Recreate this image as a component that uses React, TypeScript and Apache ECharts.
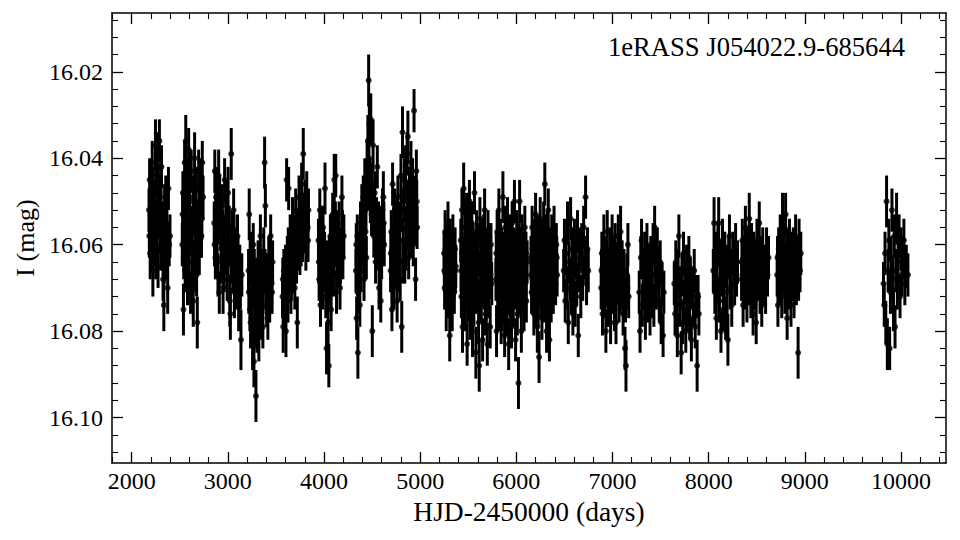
import React, { useEffect, useRef } from "react";
import * as echarts from "echarts";

// Each point: [HJD-2450000, I mag, error]
const S01: number[][] = [[2180,16.052,0.005],[2186,16.045,0.005],[2192,16.062,0.006],[2199,16.048,0.005],[2206,16.057,0.005],[2213,16.041,0.005],[2220,16.066,0.006],[2227,16.054,0.005],[2234,16.050,0.005],[2241,16.060,0.005],[2247,16.037,0.006],[2253,16.044,0.005],[2260,16.058,0.005],[2267,16.039,0.005],[2274,16.065,0.005],[2281,16.053,0.005],[2288,16.036,0.005],[2295,16.049,0.005],[2302,16.061,0.005],[2310,16.042,0.005],[2318,16.056,0.006],[2326,16.068,0.005],[2334,16.074,0.006],[2342,16.051,0.005],[2350,16.059,0.005],[2358,16.063,0.005],[2366,16.055,0.005],[2374,16.070,0.006],[2382,16.047,0.005],[2390,16.060,0.005],[2398,16.058,0.005],
  [2183,16.058,0.005],[2196,16.053,0.005],[2210,16.061,0.005],[2223,16.047,0.005],[2237,16.055,0.005],[2250,16.063,0.005],[2264,16.050,0.005],[2278,16.046,0.005],[2291,16.057,0.005],[2306,16.052,0.005],[2322,16.060,0.005],[2338,16.064,0.005],[2354,16.049,0.005],[2370,16.062,0.005]];
const S02: number[][] = [[2526,16.060,0.005],[2532,16.048,0.005],[2538,16.075,0.006],[2544,16.055,0.005],[2550,16.041,0.005],[2556,16.066,0.005],[2562,16.036,0.006],[2568,16.052,0.005],[2574,16.045,0.005],[2580,16.069,0.005],[2586,16.058,0.005],[2592,16.038,0.005],[2598,16.062,0.005],[2605,16.050,0.006],[2612,16.071,0.005],[2619,16.043,0.005],[2626,16.057,0.005],[2633,16.064,0.005],[2640,16.073,0.006],[2647,16.053,0.005],[2654,16.040,0.006],[2661,16.060,0.005],[2668,16.047,0.005],[2675,16.067,0.005],[2682,16.078,0.006],[2689,16.056,0.005],[2696,16.043,0.005],[2703,16.062,0.005],[2710,16.051,0.005],[2718,16.045,0.005],[2726,16.058,0.005],[2734,16.041,0.005],[2742,16.049,0.005],
  [2529,16.053,0.005],[2541,16.063,0.005],[2553,16.049,0.005],[2565,16.059,0.005],[2577,16.051,0.005],[2589,16.064,0.005],[2601,16.046,0.005],[2615,16.056,0.005],[2629,16.061,0.005],[2643,16.049,0.005],[2657,16.066,0.005],[2672,16.055,0.005],[2686,16.062,0.005],[2700,16.050,0.005],[2714,16.058,0.005],[2730,16.054,0.005]];
const S03: number[][] = [[2858,16.055,0.005],[2864,16.043,0.005],[2870,16.063,0.005],[2877,16.049,0.005],[2884,16.058,0.006],[2890,16.047,0.005],[2897,16.067,0.005],[2904,16.044,0.006],[2911,16.071,0.005],[2918,16.052,0.005],[2926,16.056,0.005],[2934,16.064,0.005],[2942,16.051,0.005],[2950,16.070,0.006],[2958,16.058,0.005],[2966,16.045,0.005],[2975,16.062,0.005],[2984,16.055,0.005],[2993,16.068,0.005],[3002,16.048,0.006],[3011,16.060,0.005],[3020,16.073,0.006],[3026,16.076,0.006],[3035,16.039,0.006],[3044,16.057,0.005],[3052,16.066,0.005],[3060,16.052,0.005],[3068,16.071,0.006],[3077,16.061,0.005],[3088,16.069,0.006],[3100,16.058,0.005],[3112,16.074,0.006],[3124,16.065,0.005],[3136,16.082,0.007],[3145,16.067,0.005],
  [2861,16.060,0.005],[2874,16.052,0.005],[2887,16.063,0.005],[2900,16.055,0.005],[2914,16.049,0.005],[2930,16.061,0.005],[2946,16.057,0.005],[2962,16.066,0.005],[2979,16.050,0.005],[2997,16.062,0.005],[3015,16.056,0.005],[3031,16.064,0.005],[3048,16.060,0.005],[3064,16.058,0.005],[3082,16.066,0.005],[3106,16.063,0.005],[3130,16.070,0.005]];
const S04: number[][] = [[3215,16.066,0.005],[3222,16.053,0.006],[3229,16.075,0.005],[3236,16.078,0.006],[3243,16.062,0.005],[3250,16.070,0.005],[3257,16.083,0.006],[3264,16.060,0.005],[3271,16.087,0.006],[3278,16.072,0.005],[3285,16.079,0.005],[3292,16.095,0.006],[3299,16.068,0.005],[3306,16.076,0.005],[3314,16.064,0.005],[3322,16.081,0.006],[3330,16.070,0.005],[3338,16.058,0.005],[3346,16.074,0.005],[3355,16.066,0.005],[3364,16.079,0.005],[3373,16.062,0.006],[3382,16.041,0.006],[3390,16.051,0.005],[3398,16.071,0.005],[3407,16.067,0.005],[3416,16.077,0.005],[3425,16.063,0.005],[3435,16.073,0.005],[3445,16.058,0.005],[3455,16.069,0.005],[3465,16.064,0.005],
  [3218,16.071,0.005],[3232,16.064,0.005],[3246,16.077,0.005],[3260,16.069,0.005],[3275,16.066,0.005],[3289,16.074,0.005],[3302,16.080,0.005],[3318,16.072,0.005],[3334,16.067,0.005],[3350,16.077,0.005],[3368,16.070,0.005],[3386,16.066,0.005],[3403,16.074,0.005],[3420,16.069,0.005],[3440,16.066,0.005],[3460,16.071,0.005]];
const S05: number[][] = [[3568,16.072,0.005],[3575,16.079,0.006],[3582,16.066,0.005],[3590,16.075,0.005],[3597,16.069,0.006],[3604,16.080,0.006],[3611,16.045,0.005],[3618,16.063,0.005],[3625,16.073,0.005],[3632,16.047,0.005],[3640,16.067,0.005],[3648,16.058,0.005],[3656,16.071,0.005],[3664,16.061,0.005],[3672,16.054,0.005],[3680,16.066,0.005],[3688,16.059,0.005],[3696,16.070,0.005],[3705,16.052,0.005],[3714,16.064,0.005],[3722,16.078,0.006],[3731,16.057,0.005],[3740,16.049,0.005],[3749,16.062,0.005],[3758,16.055,0.005],[3767,16.046,0.005],[3776,16.059,0.005],[3784,16.039,0.006],[3793,16.053,0.005],[3802,16.050,0.005],[3811,16.061,0.005],[3820,16.048,0.005],[3830,16.056,0.005],[3838,16.052,0.005],
  [3571,16.068,0.005],[3586,16.072,0.005],[3600,16.065,0.005],[3614,16.070,0.005],[3628,16.061,0.005],[3644,16.064,0.005],[3660,16.068,0.005],[3676,16.060,0.005],[3692,16.063,0.005],[3710,16.058,0.005],[3726,16.061,0.005],[3744,16.055,0.005],[3762,16.060,0.005],[3780,16.053,0.005],[3798,16.057,0.005],[3816,16.054,0.005],[3834,16.059,0.005]];
const S06: number[][] = [[3942,16.059,0.005],[3949,16.068,0.005],[3956,16.052,0.005],[3963,16.074,0.005],[3970,16.063,0.005],[3978,16.056,0.005],[3986,16.070,0.005],[3994,16.061,0.005],[4002,16.066,0.005],[4010,16.047,0.006],[4018,16.072,0.005],[4026,16.084,0.006],[4034,16.064,0.005],[4042,16.078,0.006],[4050,16.088,0.005],[4058,16.069,0.005],[4066,16.058,0.005],[4074,16.075,0.005],[4082,16.062,0.005],[4090,16.053,0.005],[4098,16.067,0.005],[4106,16.045,0.006],[4114,16.060,0.005],[4122,16.044,0.005],[4130,16.071,0.005],[4139,16.057,0.005],[4148,16.065,0.005],[4157,16.055,0.005],[4166,16.070,0.005],[4176,16.061,0.005],[4186,16.049,0.005],[4196,16.063,0.005],[4206,16.058,0.005],
  [3945,16.064,0.005],[3960,16.060,0.005],[3974,16.067,0.005],[3990,16.056,0.005],[4006,16.062,0.005],[4022,16.066,0.005],[4038,16.070,0.005],[4054,16.063,0.005],[4070,16.066,0.005],[4086,16.059,0.005],[4102,16.062,0.005],[4118,16.055,0.005],[4134,16.063,0.005],[4152,16.060,0.005],[4171,16.064,0.005],[4191,16.057,0.005]];
const S07: number[][] = [[4332,16.066,0.005],[4339,16.077,0.005],[4346,16.058,0.005],[4352,16.085,0.006],[4358,16.070,0.005],[4365,16.062,0.005],[4372,16.074,0.005],[4379,16.055,0.005],[4386,16.066,0.005],[4393,16.051,0.005],[4400,16.060,0.005],[4408,16.049,0.005],[4416,16.068,0.005],[4424,16.045,0.005],[4432,16.057,0.005],[4440,16.063,0.005],[4448,16.041,0.005],[4456,16.036,0.006],[4464,16.022,0.006],[4471,16.032,0.005],[4478,16.045,0.005],[4486,16.031,0.006],[4494,16.053,0.005],[4502,16.080,0.006],[4510,16.037,0.006],[4518,16.058,0.005],[4527,16.048,0.005],[4536,16.064,0.005],[4545,16.054,0.005],[4554,16.042,0.005],[4563,16.060,0.005],[4572,16.070,0.005],[4581,16.056,0.005],[4590,16.073,0.005],[4599,16.063,0.005],[4608,16.052,0.005],[4617,16.049,0.006],[4626,16.060,0.005],
  [4335,16.060,0.005],[4349,16.071,0.005],[4362,16.065,0.005],[4376,16.061,0.005],[4390,16.058,0.005],[4404,16.055,0.005],[4420,16.061,0.005],[4436,16.052,0.005],[4452,16.047,0.005],[4467,16.040,0.005],[4482,16.050,0.005],[4498,16.046,0.005],[4514,16.052,0.005],[4531,16.057,0.005],[4549,16.061,0.005],[4567,16.055,0.005],[4586,16.064,0.005],[4604,16.058,0.005],[4622,16.055,0.005]];
const S08: number[][] = [[4692,16.066,0.005],[4699,16.057,0.005],[4706,16.075,0.005],[4713,16.046,0.005],[4720,16.062,0.005],[4728,16.070,0.005],[4736,16.052,0.005],[4744,16.065,0.005],[4752,16.058,0.005],[4760,16.073,0.005],[4768,16.049,0.005],[4776,16.061,0.005],[4784,16.055,0.005],[4792,16.068,0.005],[4800,16.044,0.005],[4808,16.079,0.006],[4816,16.034,0.006],[4824,16.059,0.005],[4832,16.050,0.005],[4840,16.064,0.005],[4848,16.042,0.005],[4856,16.056,0.005],[4864,16.039,0.005],[4872,16.035,0.006],[4880,16.063,0.005],[4888,16.047,0.005],[4896,16.058,0.005],[4904,16.041,0.005],[4912,16.053,0.005],[4920,16.045,0.005],[4928,16.060,0.005],[4936,16.029,0.005],[4944,16.051,0.005],[4952,16.068,0.005],[4960,16.043,0.005],[4968,16.056,0.005],
  [4695,16.062,0.005],[4710,16.068,0.005],[4724,16.056,0.005],[4740,16.061,0.005],[4756,16.054,0.005],[4772,16.066,0.005],[4788,16.059,0.005],[4804,16.052,0.005],[4820,16.064,0.005],[4836,16.045,0.005],[4852,16.061,0.005],[4868,16.050,0.005],[4884,16.055,0.005],[4900,16.048,0.005],[4916,16.058,0.005],[4932,16.049,0.005],[4948,16.055,0.005],[4964,16.050,0.005]];
const S09: number[][] = [[5248,16.062,0.005],[5254,16.070,0.005],[5259,16.057,0.005],[5265,16.066,0.005],[5271,16.074,0.006],[5277,16.060,0.005],[5283,16.068,0.005],[5289,16.055,0.005],[5295,16.072,0.005],[5301,16.064,0.005],[5307,16.081,0.006],[5313,16.059,0.005],[5319,16.069,0.005],[5326,16.063,0.005],[5333,16.075,0.005],[5340,16.058,0.005],[5347,16.067,0.005],[5355,16.071,0.005],[5363,16.061,0.005],[5370,16.065,0.005],
  [5251,16.066,0.005],[5262,16.061,0.005],[5274,16.068,0.005],[5286,16.063,0.005],[5298,16.059,0.005],[5310,16.070,0.005],[5322,16.065,0.005],[5337,16.062,0.005],[5351,16.068,0.005],[5366,16.066,0.005]];
const S10: number[][] = [[5422,16.059,0.005],[5428,16.072,0.005],[5434,16.052,0.005],[5440,16.079,0.006],[5446,16.064,0.005],[5452,16.047,0.006],[5458,16.068,0.005],[5464,16.056,0.005],[5470,16.075,0.005],[5476,16.061,0.005],[5482,16.053,0.005],[5488,16.083,0.005],[5494,16.066,0.005],[5500,16.058,0.005],[5506,16.071,0.005],[5512,16.050,0.005],[5518,16.077,0.005],[5524,16.063,0.005],[5530,16.069,0.005],[5537,16.055,0.005],[5544,16.080,0.006],[5551,16.060,0.005],[5558,16.074,0.005],[5565,16.048,0.005],[5572,16.066,0.005],[5579,16.085,0.006],[5586,16.057,0.005],[5593,16.070,0.005],[5600,16.062,0.005],[5607,16.078,0.005],[5614,16.088,0.006],[5621,16.054,0.005],[5628,16.067,0.005],[5635,16.073,0.005],[5642,16.059,0.005],[5649,16.082,0.005],[5656,16.064,0.005],[5663,16.070,0.005],[5670,16.052,0.005],[5677,16.076,0.005],[5684,16.061,0.005],[5691,16.068,0.005],[5698,16.083,0.005],[5705,16.057,0.005],[5712,16.072,0.005],[5720,16.065,0.005],[5728,16.079,0.005],[5736,16.060,0.005],[5744,16.069,0.005],
  [5425,16.066,0.005],[5437,16.062,0.005],[5449,16.070,0.005],[5461,16.063,0.005],[5473,16.068,0.005],[5485,16.059,0.005],[5497,16.073,0.005],[5509,16.064,0.005],[5521,16.057,0.005],[5533,16.075,0.005],[5547,16.067,0.005],[5561,16.062,0.005],[5575,16.071,0.005],[5589,16.065,0.005],[5603,16.060,0.005],[5617,16.073,0.005],[5632,16.063,0.005],[5646,16.069,0.005],[5660,16.058,0.005],[5674,16.066,0.005],[5688,16.073,0.005],[5702,16.064,0.005],[5716,16.060,0.005],[5732,16.067,0.005]];
const S11: number[][] = [[5788,16.068,0.005],[5794,16.080,0.006],[5800,16.057,0.005],[5806,16.071,0.005],[5812,16.063,0.005],[5818,16.052,0.005],[5824,16.075,0.005],[5830,16.066,0.005],[5836,16.059,0.005],[5842,16.078,0.005],[5848,16.061,0.005],[5854,16.070,0.005],[5860,16.049,0.006],[5866,16.073,0.005],[5872,16.064,0.005],[5878,16.081,0.005],[5884,16.056,0.005],[5890,16.067,0.005],[5896,16.060,0.005],[5902,16.076,0.005],[5908,16.054,0.005],[5914,16.069,0.005],[5920,16.083,0.006],[5926,16.062,0.005],[5932,16.058,0.005],[5938,16.072,0.005],[5944,16.065,0.005],[5950,16.079,0.005],[5956,16.055,0.005],[5962,16.068,0.005],[5968,16.074,0.005],[5974,16.061,0.005],[5980,16.050,0.005],[5986,16.070,0.005],[5992,16.082,0.005],[5998,16.063,0.005],[6004,16.057,0.005],[6010,16.076,0.005],[6016,16.066,0.005],[6022,16.092,0.006],[6028,16.060,0.005],[6034,16.050,0.005],[6040,16.071,0.005],[6046,16.064,0.005],[6052,16.080,0.005],[6058,16.058,0.005],[6064,16.069,0.005],[6072,16.062,0.005],[6080,16.075,0.005],[6088,16.056,0.005],[6096,16.067,0.005],[6104,16.073,0.005],[6112,16.064,0.005],
  [5791,16.062,0.005],[5803,16.066,0.005],[5815,16.070,0.005],[5827,16.060,0.005],[5839,16.067,0.005],[5851,16.075,0.005],[5863,16.062,0.005],[5875,16.069,0.005],[5887,16.074,0.005],[5899,16.064,0.005],[5911,16.061,0.005],[5923,16.071,0.005],[5935,16.066,0.005],[5947,16.060,0.005],[5959,16.073,0.005],[5971,16.067,0.005],[5983,16.062,0.005],[5995,16.069,0.005],[6007,16.065,0.005],[6019,16.072,0.005],[6031,16.066,0.005],[6043,16.061,0.005],[6055,16.070,0.005],[6068,16.066,0.005],[6084,16.068,0.005],[6100,16.062,0.005]];
const S12: number[][] = [[6152,16.063,0.005],[6158,16.071,0.005],[6164,16.056,0.005],[6170,16.068,0.005],[6176,16.059,0.005],[6182,16.076,0.005],[6188,16.070,0.005],[6194,16.062,0.005],[6200,16.053,0.005],[6206,16.074,0.005],[6212,16.066,0.005],[6218,16.079,0.006],[6224,16.058,0.005],[6230,16.069,0.005],[6236,16.086,0.006],[6242,16.061,0.005],[6248,16.054,0.005],[6254,16.072,0.005],[6260,16.065,0.005],[6266,16.077,0.005],[6272,16.059,0.005],[6278,16.067,0.005],[6284,16.055,0.005],[6290,16.073,0.005],[6296,16.046,0.005],[6302,16.063,0.005],[6308,16.070,0.005],[6314,16.080,0.005],[6320,16.057,0.005],[6326,16.066,0.005],[6332,16.052,0.005],[6338,16.075,0.005],[6344,16.082,0.005],[6350,16.061,0.005],[6356,16.068,0.005],[6362,16.073,0.005],[6368,16.058,0.005],[6376,16.065,0.005],[6384,16.071,0.005],[6392,16.056,0.005],[6400,16.063,0.005],[6408,16.069,0.005],[6416,16.060,0.005],[6424,16.067,0.005],
  [6155,16.067,0.005],[6167,16.061,0.005],[6179,16.066,0.005],[6191,16.072,0.005],[6203,16.063,0.005],[6215,16.068,0.005],[6227,16.074,0.005],[6239,16.064,0.005],[6251,16.060,0.005],[6263,16.069,0.005],[6275,16.063,0.005],[6287,16.066,0.005],[6299,16.058,0.005],[6311,16.065,0.005],[6323,16.071,0.005],[6335,16.062,0.005],[6347,16.068,0.005],[6359,16.064,0.005],[6372,16.070,0.005],[6388,16.062,0.005],[6404,16.066,0.005],[6420,16.063,0.005]];
const S13: number[][] = [[6492,16.066,0.005],[6500,16.059,0.005],[6508,16.073,0.005],[6516,16.062,0.005],[6524,16.070,0.005],[6532,16.055,0.005],[6540,16.078,0.005],[6548,16.064,0.005],[6556,16.068,0.005],[6564,16.054,0.005],[6572,16.071,0.005],[6580,16.061,0.005],[6588,16.076,0.005],[6596,16.066,0.005],[6604,16.059,0.005],[6612,16.074,0.005],[6620,16.063,0.005],[6628,16.069,0.005],[6636,16.057,0.005],[6644,16.081,0.005],[6652,16.066,0.005],[6660,16.061,0.005],[6670,16.072,0.005],[6680,16.060,0.005],[6690,16.068,0.005],[6700,16.056,0.005],[6710,16.063,0.005],[6720,16.049,0.005],[6730,16.069,0.005],[6740,16.061,0.005],[6748,16.066,0.005]];
const S14: number[][] = [[6882,16.070,0.005],[6889,16.062,0.005],[6896,16.076,0.005],[6903,16.065,0.005],[6910,16.059,0.006],[6917,16.072,0.005],[6924,16.068,0.005],[6931,16.080,0.005],[6938,16.063,0.005],[6945,16.057,0.005],[6952,16.074,0.005],[6959,16.066,0.005],[6966,16.070,0.005],[6973,16.061,0.005],[6980,16.078,0.005],[6988,16.064,0.005],[6996,16.058,0.005],[7004,16.071,0.005],[7012,16.067,0.005],[7020,16.075,0.005],[7028,16.060,0.005],[7036,16.078,0.005],[7044,16.065,0.005],[7052,16.069,0.005],[7060,16.058,0.005],[7068,16.073,0.005],[7076,16.062,0.005],[7084,16.057,0.006],[7092,16.070,0.005],[7100,16.064,0.005],[7110,16.076,0.005],[7120,16.066,0.005],[7130,16.084,0.005],[7140,16.088,0.006],[7150,16.067,0.005],[7160,16.060,0.005],[7168,16.072,0.005],
  [6885,16.066,0.005],[6900,16.071,0.005],[6920,16.064,0.005],[6942,16.069,0.005],[6962,16.074,0.005],[6984,16.068,0.005],[7008,16.063,0.005],[7032,16.070,0.005],[7056,16.066,0.005],[7080,16.071,0.005],[7105,16.068,0.005],[7135,16.073,0.005],[7155,16.070,0.005]];
const S15: number[][] = [[7278,16.071,0.005],[7286,16.080,0.005],[7294,16.063,0.005],[7302,16.059,0.005],[7310,16.074,0.005],[7318,16.066,0.005],[7326,16.070,0.005],[7334,16.062,0.005],[7342,16.077,0.005],[7350,16.068,0.005],[7358,16.060,0.005],[7366,16.073,0.005],[7374,16.065,0.005],[7382,16.069,0.005],[7390,16.076,0.005],[7398,16.063,0.005],[7406,16.072,0.005],[7414,16.067,0.005],[7422,16.060,0.005],[7430,16.074,0.005],[7438,16.056,0.005],[7446,16.064,0.005],[7456,16.070,0.005],[7466,16.061,0.005],[7476,16.066,0.005],[7486,16.073,0.005],[7496,16.064,0.005],[7506,16.078,0.005],[7516,16.069,0.005],[7526,16.081,0.005],[7534,16.071,0.005]];
const S16: number[][] = [[7642,16.069,0.005],[7650,16.076,0.005],[7658,16.064,0.005],[7666,16.072,0.005],[7674,16.081,0.005],[7682,16.066,0.005],[7690,16.058,0.005],[7698,16.074,0.005],[7706,16.070,0.005],[7714,16.085,0.005],[7722,16.067,0.005],[7730,16.078,0.005],[7738,16.062,0.005],[7746,16.073,0.005],[7754,16.069,0.005],[7762,16.080,0.005],[7770,16.065,0.005],[7778,16.075,0.005],[7786,16.071,0.005],[7794,16.063,0.005],[7802,16.077,0.005],[7810,16.068,0.005],[7820,16.082,0.005],[7830,16.070,0.005],[7840,16.074,0.005],[7850,16.066,0.005],[7860,16.079,0.005],[7870,16.072,0.005],[7880,16.088,0.006],[7890,16.072,0.005],[7898,16.076,0.005]];
const S17: number[][] = [[8048,16.066,0.005],[8056,16.055,0.006],[8064,16.071,0.005],[8072,16.062,0.005],[8080,16.077,0.005],[8088,16.068,0.005],[8096,16.060,0.005],[8104,16.055,0.006],[8112,16.073,0.005],[8120,16.064,0.005],[8128,16.080,0.005],[8136,16.067,0.005],[8144,16.059,0.005],[8152,16.075,0.005],[8160,16.069,0.005],[8168,16.062,0.005],[8176,16.077,0.005],[8184,16.065,0.005],[8192,16.071,0.005],[8200,16.082,0.006],[8208,16.063,0.005],[8216,16.058,0.005],[8224,16.070,0.005],[8232,16.066,0.005],[8240,16.074,0.005],[8250,16.062,0.005],[8260,16.064,0.005],[8270,16.069,0.005],[8280,16.060,0.005],[8290,16.067,0.005],[8300,16.064,0.005]];
const S18: number[][] = [[8342,16.068,0.005],[8350,16.059,0.005],[8358,16.074,0.005],[8366,16.063,0.005],[8374,16.070,0.005],[8382,16.056,0.005],[8390,16.066,0.005],[8398,16.073,0.005],[8406,16.061,0.005],[8414,16.069,0.005],[8422,16.054,0.006],[8430,16.065,0.005],[8438,16.072,0.005],[8446,16.060,0.005],[8454,16.067,0.005],[8462,16.076,0.005],[8470,16.062,0.005],[8478,16.070,0.005],[8486,16.064,0.005],[8494,16.078,0.005],[8502,16.059,0.005],[8510,16.068,0.005],[8518,16.063,0.005],[8526,16.055,0.005],[8534,16.071,0.005],[8542,16.066,0.005],[8552,16.074,0.005],[8562,16.061,0.005],[8572,16.069,0.005],[8582,16.065,0.005],[8592,16.071,0.005],[8602,16.061,0.005],[8612,16.067,0.005],[8622,16.063,0.005],
  [8346,16.064,0.005],[8370,16.067,0.005],[8394,16.062,0.005],[8418,16.066,0.005],[8442,16.068,0.005],[8466,16.065,0.005],[8490,16.069,0.005],[8514,16.066,0.005],[8538,16.063,0.005],[8566,16.067,0.005],[8598,16.065,0.005]];
const S19: number[][] = [[8712,16.067,0.005],[8720,16.074,0.005],[8728,16.061,0.005],[8736,16.069,0.005],[8744,16.058,0.005],[8752,16.065,0.005],[8760,16.072,0.005],[8768,16.054,0.006],[8776,16.066,0.005],[8784,16.060,0.005],[8792,16.071,0.005],[8800,16.053,0.005],[8808,16.068,0.005],[8816,16.077,0.005],[8824,16.063,0.005],[8832,16.070,0.005],[8840,16.059,0.005],[8848,16.066,0.005],[8856,16.074,0.005],[8864,16.062,0.005],[8872,16.068,0.005],[8880,16.061,0.005],[8888,16.072,0.005],[8896,16.065,0.005],[8904,16.058,0.005],[8912,16.069,0.005],[8920,16.063,0.005],[8930,16.085,0.006],[8940,16.059,0.005],[8950,16.066,0.005],[8958,16.062,0.005],
  [8716,16.063,0.005],[8740,16.067,0.005],[8764,16.062,0.005],[8788,16.066,0.005],[8812,16.061,0.005],[8836,16.065,0.005],[8860,16.068,0.005],[8884,16.064,0.005],[8908,16.066,0.005],[8935,16.068,0.005]];
const S20: number[][] = [[9818,16.069,0.005],[9826,16.074,0.005],[9834,16.062,0.005],[9842,16.078,0.005],[9850,16.050,0.006],[9858,16.083,0.006],[9866,16.066,0.005],[9874,16.059,0.005],[9882,16.084,0.005],[9890,16.071,0.005],[9898,16.063,0.005],[9906,16.052,0.005],[9914,16.068,0.005],[9922,16.075,0.005],[9930,16.058,0.005],[9938,16.079,0.005],[9946,16.066,0.005],[9954,16.054,0.006],[9962,16.070,0.005],[9970,16.064,0.005],[9980,16.058,0.005],[9990,16.072,0.005],[10000,16.061,0.005],[10010,16.067,0.005],[10020,16.063,0.005],[10030,16.059,0.005],[10040,16.069,0.005],[10055,16.065,0.005],[10072,16.067,0.005]];

const SEASONS = [S01, S02, S03, S04, S05, S06, S07, S08, S09, S10, S11, S12, S13, S14, S15, S16, S17, S18, S19, S20];

const X_MAJOR = [2000, 3000, 4000, 5000, 6000, 7000, 8000, 9000, 10000];
const Y_MAJOR = [16.02, 16.04, 16.06, 16.08, 16.1];
const X_MIN = 1795;
const X_MAX = 10468;
const Y_MIN = 16.0064;
const Y_MAX = 16.1105;

const TITLE = "1eRASS J054022.9-685644";
const X_NAME = "HJD-2450000 (days)";
const Y_NAME = "I (mag)";

const FONT = "Liberation Serif";

function minorTicks(start: number, stop: number, step: number, majors: number[], digits: number) {
  const out: number[] = [];
  const n = Math.round((stop - start) / step);
  for (let i = 0; i <= n; i++) {
    const v = Number((start + i * step).toFixed(digits));
    if (!majors.some((m) => Math.abs(m - v) < step / 10)) out.push(v);
  }
  return out;
}

export default function App() {
  const ref = useRef<HTMLDivElement>(null);
  useEffect(() => {
    if (!ref.current) return;
    const chart = echarts.init(ref.current, undefined, { renderer: "svg" });
    const all = SEASONS.flat();
    const xMinor = minorTicks(1800, 10400, 200, X_MAJOR, 0);
    const yMinor = minorTicks(16.008, 16.108, 0.004, Y_MAJOR, 3);
    const black = "#000";
    const spine = { show: true, onZero: false, lineStyle: { color: black, width: 1.5 } };
    const noLine = { show: false };
    const majTick = (vals: number[]) => ({ show: true, inside: true, length: 11, lineStyle: { color: black, width: 1.3 }, customValues: vals });
    const minTick = (vals: number[]) => ({ show: true, inside: true, length: 6, lineStyle: { color: black, width: 1.1 }, customValues: vals });
    const xBase = { type: "value", min: X_MIN, max: X_MAX, splitLine: { show: false } };
    const yBase = { type: "value", min: Y_MIN, max: Y_MAX, inverse: true, splitLine: { show: false } };

    const option: any = {
      animation: false,
      backgroundColor: "#fff",
      grid: { left: 112, right: 14, top: 13, bottom: 77, containLabel: false, outerBoundsMode: "none" },
      xAxis: [
        {
          ...xBase,
          position: "bottom",
          axisLine: spine,
          axisTick: majTick(X_MAJOR),
          axisLabel: {
            show: true,
            customValues: X_MAJOR,
            margin: 6,
            color: black,
            fontFamily: FONT,
            fontSize: 24,
            formatter: (v: number) => String(Math.round(v)),
          },
          name: X_NAME,
          nameLocation: "middle",
          nameGap: 34,
          nameTextStyle: { color: black, fontFamily: FONT, fontSize: 27.5 },
        },
        { ...xBase, position: "bottom", axisLine: noLine, axisTick: minTick(xMinor), axisLabel: { show: false } },
        { ...xBase, position: "top", axisLine: spine, axisTick: majTick(X_MAJOR), axisLabel: { show: false } },
        { ...xBase, position: "top", axisLine: noLine, axisTick: minTick(xMinor), axisLabel: { show: false } },
      ],
      yAxis: [
        {
          ...yBase,
          position: "left",
          axisLine: spine,
          axisTick: majTick(Y_MAJOR),
          axisLabel: {
            show: true,
            customValues: Y_MAJOR,
            margin: 9,
            color: black,
            fontFamily: FONT,
            fontSize: 24,
            formatter: (v: number) => v.toFixed(2),
          },
          name: Y_NAME,
          nameLocation: "middle",
          nameGap: 72,
          nameRotate: 90,
          nameTextStyle: { color: black, fontFamily: FONT, fontSize: 26 },
        },
        { ...yBase, position: "left", axisLine: noLine, axisTick: minTick(yMinor), axisLabel: { show: false } },
        { ...yBase, position: "right", axisLine: spine, axisTick: majTick(Y_MAJOR), axisLabel: { show: false } },
        { ...yBase, position: "right", axisLine: noLine, axisTick: minTick(yMinor), axisLabel: { show: false } },
      ],
      graphic: [
        {
          type: "text",
          right: 55,
          top: 33,
          style: { text: TITLE, fill: black, fontFamily: FONT, fontSize: 26.6 },
        },
      ],
      series: [
        {
          type: "custom",
          xAxisIndex: 0,
          yAxisIndex: 0,
          data: all,
          encode: { x: 0, y: 1 },
          silent: true,
          clip: true,
          renderItem: (_params: any, api: any) => {
            const x = api.value(0);
            const y = api.value(1);
            const e = api.value(2);
            const p1 = api.coord([x, y - e]);
            const p2 = api.coord([x, y + e]);
            return {
              type: "line",
              shape: { x1: p1[0], y1: p1[1], x2: p2[0], y2: p2[1] },
              style: { stroke: black, lineWidth: 3 },
            };
          },
        },
        {
          type: "scatter",
          xAxisIndex: 0,
          yAxisIndex: 0,
          data: all.map((d) => [d[0], d[1]]),
          symbol: "circle",
          symbolSize: 6,
          silent: true,
          itemStyle: { color: black },
        },
      ],
    };
    chart.setOption(option);
    return () => chart.dispose();
  }, []);
  return (
    <div
      ref={ref}
      style={{ position: "fixed", left: 0, top: 0, width: 960, height: 540, background: "#fff" }}
    />
  );
}
